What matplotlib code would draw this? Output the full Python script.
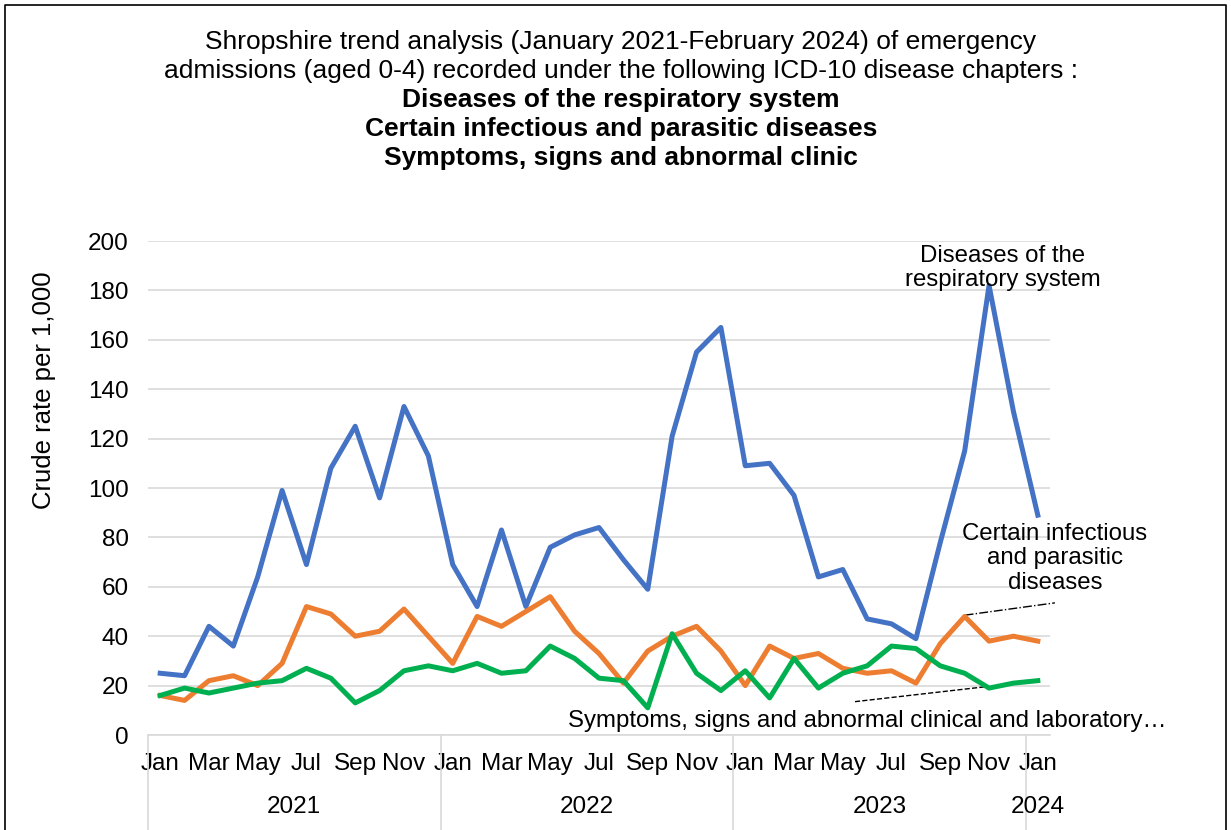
import matplotlib
matplotlib.use("Agg")
import matplotlib.pyplot as plt
import matplotlib.transforms as mtransforms

plt.rcParams["font.family"] = ["Liberation Sans", "DejaVu Sans"]

months = ["Jan", "Feb", "Mar", "Apr", "May", "Jun", "Jul", "Aug", "Sep", "Oct", "Nov", "Dec"]
years = ["2021", "2022", "2023", "2024"]

respiratory = [25, 24, 44, 36, 64, 99, 69, 108, 125, 96, 133, 113,
               69, 52, 83, 52, 76, 81, 84, 71, 59, 121, 155, 165,
               109, 110, 97, 64, 67, 47, 45, 39, 78, 115, 182, 131,
               89]
infectious = [16, 14, 22, 24, 20, 29, 52, 49, 40, 42, 51, 40,
              29, 48, 44, 50, 56, 42, 33, 21, 34, 40, 44, 34,
              20, 36, 31, 33, 27, 25, 26, 21, 37, 48, 38, 40,
              38]
symptoms = [16, 19, 17, 19, 21, 22, 27, 23, 13, 18, 26, 28,
            26, 29, 25, 26, 36, 31, 23, 22, 11, 41, 25, 18,
            26, 15, 31, 19, 25, 28, 36, 35, 28, 25, 19, 21,
            22]

title_lines = ["Shropshire trend analysis (January 2021-February 2024) of emergency",
               "admissions (aged 0-4) recorded under the following ICD-10 disease chapters :"]
bold_lines = ["Diseases of the respiratory system",
              "Certain infectious and parasitic diseases",
              "Symptoms, signs and abnormal clinic"]

n = len(respiratory)
x = list(range(n))
W, H = 1231, 830

fig = plt.figure(figsize=(W / 100, H / 100), dpi=100)
ax = fig.add_axes([148 / W, 95 / H, 902 / W, 494 / H])

ax.plot(x, respiratory, color="#4472C4", linewidth=3.6, solid_joinstyle="round", zorder=3)
ax.plot(x, infectious, color="#ED7D31", linewidth=3.6, solid_joinstyle="round", zorder=3)
ax.plot(x, symptoms, color="#00B050", linewidth=3.6, solid_joinstyle="round", zorder=3)

ax.set_xlim(-0.5, n - 0.5)
ax.set_ylim(0, 200)
ax.set_yticks(range(0, 201, 20))
ax.tick_params(axis="y", length=0, labelsize=17.5, pad=14)
ax.grid(axis="y", color="#D9D9D9", linewidth=1.2)
ax.set_axisbelow(True)
for side in ["top", "right", "left"]:
    ax.spines[side].set_visible(False)
ax.spines["bottom"].set_color("#D9D9D9")
ax.spines["bottom"].set_linewidth(1.2)

# month labels every other month
ax.set_xticks(x[::2])
ax.set_xticklabels([months[i % 12] for i in x[::2]])
ax.tick_params(axis="x", length=0, labelsize=17.5, pad=13)

# year labels and dividers
trans = mtransforms.blended_transform_factory(ax.transData, ax.transAxes)
for k, yr in enumerate(years):
    start = k * 12
    end = min(start + 12, n)
    ax.text((start + end - 1) / 2, -72 / 494, yr, transform=trans,
            ha="center", va="center", fontsize=17.5)
    ax.plot([start - 0.5, start - 0.5], [0, -0.2], transform=trans,
            color="#D9D9D9", linewidth=1.2, clip_on=False)

ax.set_ylabel("Crude rate per 1,000", fontsize=18.5)
ax.yaxis.set_label_coords(-92 / 902, (735 - 390) / 494)

# series labels
ax.text(34.57, 189, "Diseases of the\nrespiratory system", ha="center", va="center",
        fontsize=17.3, linespacing=1.15)
ax.text(36.7, 86, "Certain infectious\nand parasitic\ndiseases", ha="center", va="top",
        fontsize=17.3, linespacing=1.15, clip_on=False)
ax.plot([33, 36.7], [48.5, 53.5], color="black", linewidth=1, linestyle="-.", clip_on=False)
ax.text(29.0, 5.7, "Symptoms, signs and abnormal clinical and laboratory\u2026",
        ha="center", va="center", fontsize=17.3, clip_on=False)
ax.plot([28.5, 34], [13.5, 19.7], color="black", linewidth=1, linestyle="--", clip_on=False)

# title, one line at a time
for i, line in enumerate(title_lines + bold_lines):
    weight = "bold" if i >= len(title_lines) else "normal"
    fig.text(621 / W, 1 - (42 + 29 * i) / H, line, ha="center", va="center",
             fontsize=19, fontweight=weight)

# outer frame (bottom edge falls off the image)
fig.add_artist(plt.Line2D([5 / W, 5 / W, 1226 / W, 1226 / W],
                          [-0.01, 825 / H, 825 / H, -0.01],
                          transform=fig.transFigure, color="black", linewidth=1.2))

fig.savefig("out.png", dpi=100)
plt.close(fig)
